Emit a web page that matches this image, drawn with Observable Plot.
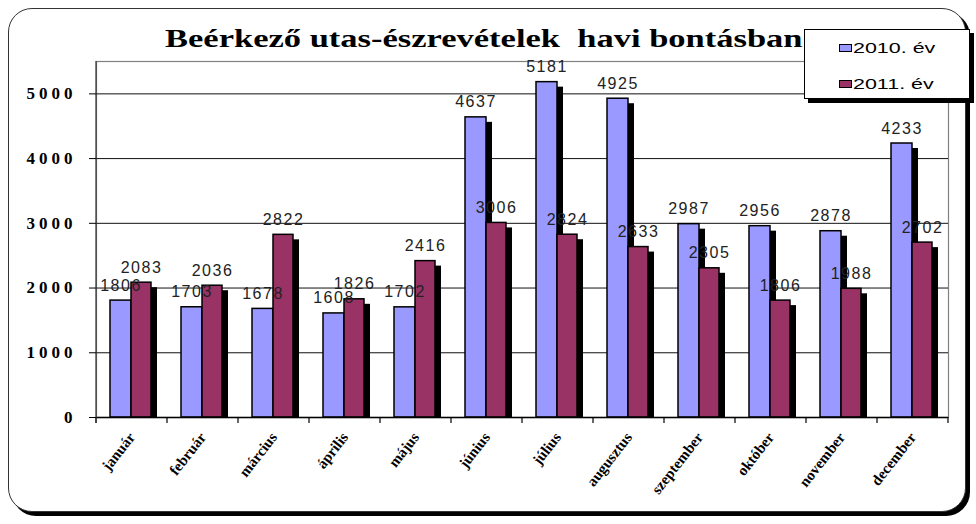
<!DOCTYPE html>
<html><head><meta charset="utf-8">
<script src="https://cdn.jsdelivr.net/npm/d3@7"></script>
<script src="https://cdn.jsdelivr.net/npm/@observablehq/plot@0.6"></script>
<style>
body{margin:0;background:#fff;}
#wrap{position:relative;width:976px;height:524px;overflow:hidden;background:#fff;}
#border{position:absolute;left:8px;top:8px;width:958px;height:504px;box-sizing:border-box;border:1.5px solid #333;border-radius:24px;box-shadow:4px 4px 0 #000;background:#fff;}
#chart{position:absolute;left:0;top:0;}
#title{position:absolute;left:165px;top:26px;font:bold 25px/25px "Liberation Serif","Times New Roman",serif;transform:scaleX(1.38);transform-origin:left top;white-space:pre;color:#000;}
#legend{position:absolute;left:804px;top:29px;width:166px;height:70px;box-sizing:border-box;border:1.5px solid #000;box-shadow:4px 4px 0 #000;background:#fff;}
.sw{position:absolute;left:34px;width:13px;height:8px;box-sizing:border-box;border:1.5px solid #000;}
.lt{position:absolute;left:48px;font:15px/15px "Liberation Sans",Arial,sans-serif;transform:scaleX(1.43);transform-origin:left top;white-space:pre;color:#000;}
g[aria-label="y-axis tick label"]{letter-spacing:4px;}
g[aria-label="text"]{letter-spacing:1.5px;}
</style>
</head><body>
<div id="wrap">
  <div id="border"></div>
  <div id="chart"></div>
  <div id="title"></div>
  <div id="legend"></div>
</div>
<script>
// ---- data ----
const titleText = "Beérkező utas-észrevételek  havi bontásban";
const months = ["január","február","március","április","május","június","július","augusztus","szeptember","október","november","december"];
const seriesNames = ["2010. év","2011. év"];
const v2010 = [1806,1703,1678,1608,1702,4637,5181,4925,2987,2956,2878,4233];
const v2011 = [2083,2036,2822,1826,2416,3006,2824,2633,2305,1806,1988,2702];
const yTicks = [0,1000,2000,3000,4000,5000];
const colors = ["#9999FF","#993366"];

const rows10 = months.map((m,i)=>({month:m, value:v2010[i]}));
const rows11 = months.map((m,i)=>({month:m, value:v2011[i]}));

function extras(index, scales, values, dimensions) {
  const x = scales.x, y = scales.y;
  let bw = typeof x.bandwidth === "function" ? x.bandwidth() : x.bandwidth;
  if (bw == null && scales.scales && scales.scales.x) bw = scales.scales.x.bandwidth;
  const y0 = y(0);
  const bounds = months.map(m => x(m)).concat([x(months[months.length-1]) + bw]);
  const g = d3.create("svg:g").attr("stroke","#000").attr("stroke-width",1.2);
  g.selectAll("line.t").data(bounds).join("line").attr("class","t")
    .attr("x1",d=>d).attr("x2",d=>d).attr("y1",y0).attr("y2",y0+6);
  g.append("line").attr("x1",bounds[0]).attr("x2",bounds[0])
    .attr("y1",dimensions.marginTop).attr("y2",y0+6).attr("stroke","#333");
  return g.node();
}

const chart = Plot.plot({
  width:976, height:524,
  marginLeft:96, marginRight:28, marginTop:61, marginBottom:107,
  style:{background:"transparent", fontFamily:"'Liberation Sans', Arial, sans-serif", overflow:"visible"},
  x:{type:"band", domain:months, padding:0, round:false, label:null},
  y:{domain:[0,5500], label:null},
  marks:[
    Plot.frame({stroke:"#808080", strokeWidth:1.2}),
    Plot.ruleY(yTicks.filter(t=>t>0), {stroke:"#111", strokeWidth:1}),
    Plot.barY(rows10, {x:"month", y:"value", fill:"#000", insetLeft:14, insetRight:36, dx:6, dy:5, insetBottom:5}),
    Plot.barY(rows11, {x:"month", y:"value", fill:"#000", insetLeft:35, insetRight:16, dx:6, dy:5, insetBottom:5}),
    Plot.barY(rows10, {x:"month", y:"value", fill:colors[0], stroke:"#000", strokeWidth:1.5, insetLeft:14, insetRight:36}),
    Plot.barY(rows11, {x:"month", y:"value", fill:colors[1], stroke:"#000", strokeWidth:1.5, insetLeft:35, insetRight:16}),
    Plot.ruleY([0], {stroke:"#000", strokeWidth:1.5}),
    extras,
    Plot.text(rows10, {x:"month", y:"value", text:d=>String(d.value), dx:-11, dy:-10, lineAnchor:"bottom", fontSize:16, fill:"#222"}),
    Plot.text(rows11, {x:"month", y:"value", text:d=>String(d.value), dx:9.5, dy:-10, lineAnchor:"bottom", fontSize:16, fill:"#222"}),
    Plot.axisY({ticks:yTicks, tickFormat:d=>String(d), tickSize:7, tickPadding:13, stroke:"#000", fill:"#000",
      fontSize:17, fontWeight:"bold", fontFamily:"'Liberation Serif', 'Times New Roman', serif", label:null}),
    Plot.axisX({tickSize:0, tickPadding:17, tickRotate:-52, fill:"#000",
      fontSize:15, fontWeight:"bold", fontFamily:"'Liberation Serif', 'Times New Roman', serif", label:null})
  ]
});
document.getElementById("chart").appendChild(chart);
document.getElementById("title").textContent = titleText;

const legend = document.getElementById("legend");
seriesNames.forEach((name,i)=>{
  const sw = document.createElement("div");
  sw.className = "sw"; sw.style.top = (14 + i*36) + "px"; sw.style.background = colors[i];
  const t = document.createElement("div");
  t.className = "lt"; t.style.top = (10 + i*36) + "px"; t.textContent = name;
  legend.appendChild(sw); legend.appendChild(t);
});
</script>
</body></html>
